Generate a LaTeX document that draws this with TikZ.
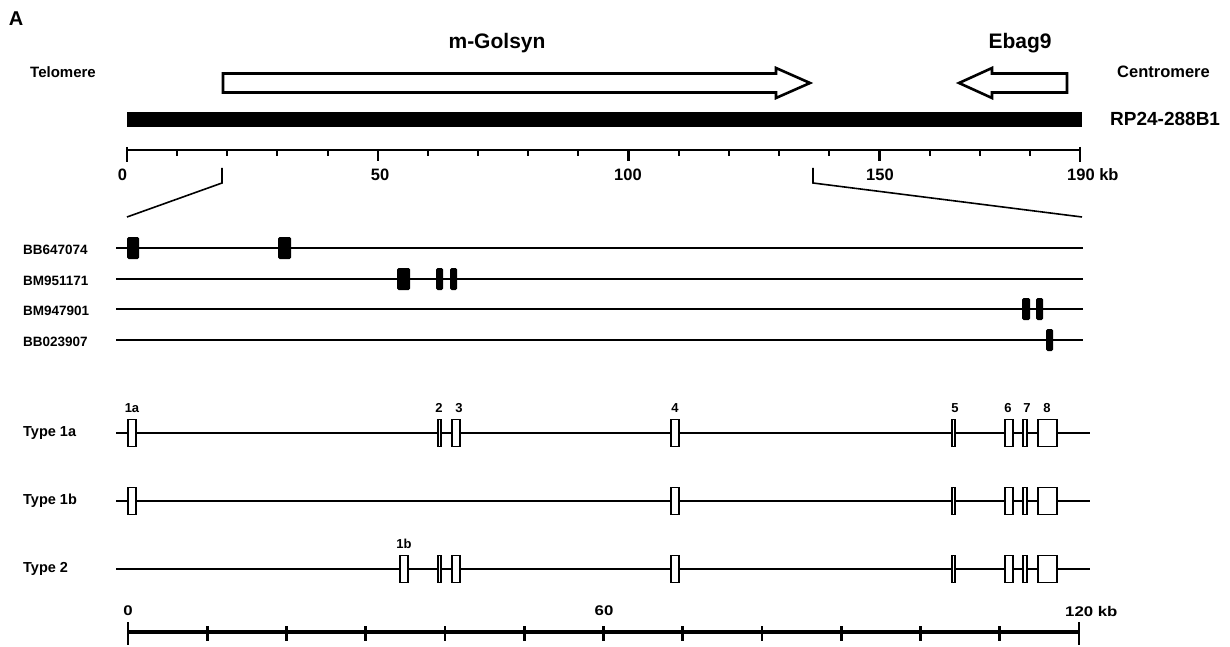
\documentclass[tikz,border=0pt]{standalone}
\usepackage{fontspec}
\setmainfont{Liberation Sans}
\newfontfamily\wideface[FakeStretch=1.2]{Liberation Sans}
\usepackage{tikz}
\tikzset{>=latex}
\tikzstyle{txt}=[inner sep=0pt,font=\bfseries]
\tikzstyle{side label}=[txt,anchor=west]
\tikzstyle{kb label}=[txt,font=\bfseries\fontsize{16.5}{18}\selectfont]
\tikzstyle{kb label2}=[txt,font=\wideface\bfseries\fontsize{14}{16}\selectfont]
\tikzstyle{exon label}=[txt,font=\bfseries\fontsize{13}{15}\selectfont]
\tikzstyle{gene arrow}=[draw=black,fill=white,line width=2.6pt,line join=miter]
\tikzstyle{intron}=[line width=1.8pt]
\tikzstyle{exon}=[draw=black,fill=white,line width=1.8pt]
\tikzstyle{est}=[fill=black,rounded corners=1.5pt]
\newcommand\exonrow[2]{%
  \foreach \a/\b in {#2} \draw[exon] (\a,#1-13.5) rectangle (\b,#1+13.5);}

\begin{document}
\begin{tikzpicture}[x=1pt,y=-1pt]
  \useasboundingbox (0,0) rectangle (1230,647);
  \node[txt,font=\bfseries\fontsize{20}{22}\selectfont] (panel) at (16,19) {A};

  % BAC clone and genes
  \node[side label,font=\bfseries\fontsize{15}{17}\selectfont] (tel) at (30,72) {Telomere};
  \node[side label,font=\bfseries\fontsize{16.5}{18}\selectfont] (cen) at (1117,72) {Centromere};
  \node[txt,font=\bfseries\fontsize{21}{23}\selectfont] (golsyn) at (497,43) {m-Golsyn};
  \node[txt,font=\bfseries\fontsize{21}{23}\selectfont] (ebag) at (1020,43) {Ebag9};
  \draw[gene arrow] (223,73.5) -- (776,73.5) -- (776,68) -- (810,83) -- (776,98)
                    -- (776,92.5) -- (223,92.5) -- cycle;
  \draw[gene arrow] (1067,73.5) -- (992,73.5) -- (992,68) -- (959,83) -- (992,98)
                    -- (992,92.5) -- (1067,92.5) -- cycle;
  \fill (127,112) rectangle (1082,127);
  \node[side label,font=\bfseries\fontsize{19}{21}\selectfont] (clone) at (1110,119) {RP24-288B1};

  % 190 kb scale
  \draw[line width=2.8pt] (127,150) coordinate (s0) -- (1080,150) coordinate (s190);
  \foreach \i in {1,...,18} \draw[line width=2pt] (127+\i*5.016*10,150) -- ++(0,6);
  \foreach \i in {50,100,150} \draw[line width=2.4pt] (127+\i*5.016,150) -- ++(0,11);
  \draw[line width=2.4pt] (127,147) -- (127,162) (1080,147) -- (1080,162);
  \node[kb label] (t0) at (122.5,175) {0};
  \node[kb label] (t50) at (380,175) {50};
  \node[kb label] (t100) at (628,175) {100};
  \node[kb label] (t150) at (880,175) {150};
  \node[kb label,anchor=west] (t190) at (1067,175) {190 kb};
  \coordinate (zl) at (222,168);
  \coordinate (zr) at (813,168);
  \draw[line width=1.6pt] (zl) -- ++(0,15) -- (127,217);
  \draw[line width=1.6pt] (zr) -- ++(0,15) -- (1082,217);

  % ESTs
  \foreach \y/\name in {248/BB647074,279/BM951171,309/BM947901,340/BB023907}{
    \node[side label,font=\bfseries\fontsize{13.5}{15}\selectfont] (\name) at (23,\y+2) {\name};
    \draw[intron] (116,\y) -- (1083,\y);}
  \foreach \a/\b/\y in {127/139/248,278/291/248,397/410/279,436/443/279,450/457/279,
                        1022/1030/309,1036/1043/309,1046/1053/340}
    \fill[est] (\a,\y-11) rectangle (\b,\y+11);

  % transcripts
  \foreach \y/\t in {433/Type 1a,501/Type 1b,569/Type 2}{
    \node[side label,font=\bfseries\fontsize{14.5}{16}\selectfont] (row\y) at (23,\y) {\t};
    \draw[intron] (116,\y) -- (1090,\y);}
  \exonrow{433}{128/136,438/441,452/460,671/679,952/955,1005/1013,1023/1027,1038/1057}
  \exonrow{501}{128/136,671/679,952/955,1005/1013,1023/1027,1038/1057}
  \exonrow{569}{400/408,438/441,452/460,671/679,952/955,1005/1013,1023/1027,1038/1057}
  \foreach \x/\e in {132/1a,439/2,459/3,675/4,955/5,1008/6,1027/7,1047/8}
    \node[exon label] (ex\e) at (\x,408) {\e};
  \node[exon label] (ex1b) at (404,544) {1b};

  % 120 kb scale
  \draw[line width=3.8pt] (128,632) coordinate (b0) -- (1079,632) coordinate (b120);
  \foreach \i in {1,...,11} \draw[line width=2.8pt] (128+\i*79.25,626) -- ++(0,15);
  \draw[line width=2.8pt] (128,622) -- (128,645) (1079,622) -- (1079,645);
  \node[kb label2] (u0) at (128,611) {0};
  \node[kb label2] (u60) at (604,611) {60};
  \node[kb label2,anchor=west] (u120) at (1065,611) {120 kb};
\end{tikzpicture}
\end{document}
